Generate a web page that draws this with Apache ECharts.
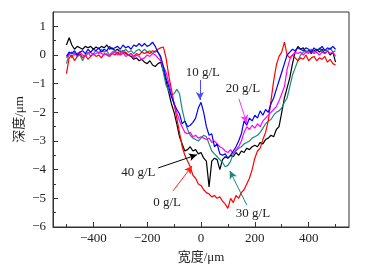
<!DOCTYPE html>
<html><head><meta charset="utf-8">
<script src="https://cdn.jsdelivr.net/npm/echarts@6/dist/echarts.min.js"></script>
<style>html,body{margin:0;padding:0;background:#fff}#c{width:388px;height:269px}</style>
</head><body><div id="c"></div>
<script>
const widthUm = [-500,-490,-480,-470,-460,-450,-440,-430,-420,-410,-400,-390,-380,-370,-360,-350,-340,-330,-320,-310,-300,-290,-280,-270,-260,-250,-240,-230,-220,-210,-200,-190,-180,-170,-160,-150,-140,-130,-120,-110,-100,-90,-80,-70,-60,-50,-40,-30,-20,-10,0,10,20,30,40,50,60,70,80,90,100,110,120,130,140,150,160,170,180,190,200,210,220,230,240,250,260,270,280,290,300,310,320,330,340,350,360,370,380,390,400,410,420,430,440,450,460,470,480,490,500];
const depth40 = [0.35,0.6,0.35,0.2,0.3,0.25,0.2,0.3,0.25,0.3,0.2,0.28,0.22,0.3,0.25,0.35,0.2,0.25,0.15,0.2,0.1,0.15,0.05,0.0,-0.05,-0.15,-0.1,-0.2,-0.15,-0.25,-0.3,-0.2,-0.35,-0.4,-0.3,-0.25,-0.55,-0.9,-1.3,-1.7,-2.0,-2.4,-2.85,-3.1,-3.35,-3.3,-3.2,-3.35,-3.3,-3.45,-3.4,-3.6,-3.7,-4.6,-3.7,-3.6,-3.65,-4.0,-3.65,-3.55,-3.6,-3.5,-3.55,-3.4,-3.5,-3.35,-3.4,-3.25,-3.3,-3.2,-3.15,-3.2,-3.05,-3.1,-2.95,-2.9,-2.8,-2.85,-2.6,-2.5,-2.0,-1.5,-1.15,-0.8,-0.3,0.1,0.3,0.2,0.25,0.1,0.15,0.05,0.15,0.2,0.1,0.2,0.05,0.15,0.0,0.1,-0.25];
const depth10 = [-0.05,0.1,0.05,0.15,0.0,0.1,0.15,0.05,0.2,0.1,0.2,0.15,0.25,0.1,0.2,0.15,0.3,0.2,0.25,0.3,0.2,0.35,0.25,0.3,0.2,0.35,0.3,0.4,0.3,0.4,0.3,0.35,0.45,0.3,0.1,-0.05,-0.4,-0.8,-1.1,-1.45,-1.7,-1.9,-2.05,-2.4,-2.3,-2.5,-2.45,-2.35,-2.2,-1.85,-1.65,-2.0,-2.5,-2.8,-2.75,-3.2,-3.1,-3.45,-3.5,-3.45,-3.6,-3.5,-3.35,-3.2,-3.0,-2.75,-2.3,-2.45,-2.2,-2.3,-2.1,-2.2,-1.95,-2.1,-1.9,-2.0,-1.7,-1.5,-1.2,-0.9,-0.6,-0.3,0.0,0.1,0.2,0.15,0.25,0.2,0.15,0.25,0.2,0.1,0.25,0.15,0.2,0.3,0.15,0.25,0.2,0.3,0.2];
const depth20 = [-0.1,0.05,0.1,0.0,0.05,0.1,0.0,-0.05,0.05,0.1,0.0,0.05,0.1,0.05,0.0,0.05,-0.05,0.05,0.1,0.0,0.05,0.1,-0.05,0.0,0.05,-0.1,0.0,-0.05,-0.15,-0.1,0.0,-0.05,0.05,0.0,-0.1,-0.2,-0.4,-0.6,-0.95,-1.35,-1.7,-2.0,-2.3,-2.5,-2.7,-2.75,-2.7,-2.85,-2.8,-2.9,-2.85,-2.9,-2.95,-2.9,-3.05,-3.0,-3.1,-3.2,-3.25,-3.35,-3.4,-3.3,-3.45,-3.3,-3.2,-3.0,-2.7,-2.5,-2.6,-2.45,-2.55,-2.4,-2.5,-2.3,-2.2,-2.1,-2.0,-1.9,-1.8,-1.6,-1.35,-1.1,-0.5,-0.15,0.0,0.1,0.05,0.1,0.0,0.1,0.05,0.15,0.05,0.1,0.0,0.1,0.05,0.15,0.05,0.1,-0.05];
const depth30 = [-0.3,0.05,-0.1,0.1,-0.05,0.0,-0.2,0.0,0.1,-0.05,0.05,0.15,0.05,0.2,0.1,0.15,0.0,0.1,0.15,0.05,0.15,0.1,0.2,0.1,0.15,0.05,0.15,0.2,0.1,0.2,0.1,0.15,0.05,0.15,0.1,-0.1,-0.6,-1.05,-1.25,-1.4,-1.35,-1.2,-1.35,-1.9,-2.3,-2.6,-2.8,-2.9,-2.95,-3.0,-2.9,-2.8,-2.85,-3.1,-3.35,-3.45,-3.55,-3.65,-3.75,-3.9,-3.85,-3.7,-3.45,-3.35,-3.25,-3.2,-3.1,-3.05,-3.0,-2.9,-2.85,-2.8,-2.7,-2.55,-2.4,-2.3,-2.25,-2.1,-2.0,-1.95,-1.85,-1.65,-1.5,-1.1,-0.7,-0.45,-0.2,0.0,0.1,0.15,0.1,0.2,0.1,0.15,0.25,0.1,0.2,0.15,0.25,0.1,0.15];
const depth0 = [-0.65,-0.1,0.0,-0.2,-0.05,0.05,-0.1,0.0,-0.15,-0.05,0.05,-0.05,0.0,-0.1,0.05,0.0,-0.05,0.05,0.0,0.1,0.0,0.05,0.1,0.0,0.05,-0.05,0.05,0.0,0.1,0.05,0.1,0.05,0.15,0.1,0.2,0.25,0.28,-0.1,-0.7,-1.2,-1.7,-2.2,-2.7,-3.2,-3.5,-3.7,-3.9,-4.2,-4.3,-4.5,-4.55,-4.7,-4.8,-4.85,-4.95,-4.9,-5.0,-4.95,-5.1,-5.2,-5.35,-5.0,-5.15,-4.9,-5.0,-4.8,-4.7,-4.5,-4.3,-4.0,-3.6,-3.35,-3.25,-2.95,-2.7,-2.3,-1.6,-0.9,-0.35,-0.05,0.1,0.45,0.0,-0.1,0.0,-0.1,-0.2,-0.1,-0.15,0.0,-0.2,-0.1,-0.05,-0.2,-0.1,-0.15,-0.05,-0.25,-0.15,-0.3,-0.35];

const seriesNames = ['40 g/L','30 g/L','0 g/L','20 g/L','10 g/L'];
const seriesData = [depth40, depth30, depth0, depth20, depth10];
const seriesColors = ['#000000','#1a8a7e','#ff0000','#ff00ff','#0000ff'];
const arrowColors = ['#000000','#1a8a7e','#ff2020','#ff30ff','#4a4aff'];
// annotation label positions [x, y] and arrow [from, to] in data units
const labelPos = [[-233,-4.11],[193,-5.54],[-126,-5.16],[156,-1.18],[7,-0.63]];
const arrowFrom = [[-159,-3.94],[170,-5.23],[-104,-4.74],[141,-1.53],[-4,-0.87]];
const arrowTo = [[-15,-3.48],[107,-4.04],[-33,-3.87],[170,-2.37],[-4,-1.57]];

const xLabelVals = [-400,-200,0,200,400];
const xMajorTicks = [-400,-200,0,200,400];
const xMinorTicks = [-500,-300,-100,100,300,500];
const yLabelVals = [-6,-5,-4,-3,-2,-1,0,1];
const yMinorTicks = [-5.5,-4.5,-3.5,-2.5,-1.5,-0.5,0.5];

const serif = "'Liberation Serif','Times New Roman',serif";
const fmt = v => v < 0 ? '\u2212' + Math.abs(v) : String(v);
const chart = echarts.init(document.getElementById('c'), null, {renderer:'canvas'});
const axisColor = '#333';
chart.setOption({
  animation:false,
  grid:{left:53,right:39,top:12,bottom:42,show:true,borderColor:axisColor,borderWidth:1,backgroundColor:'transparent'},
  xAxis:[{
    type:'value',min:-550,max:550,position:'bottom',
    name:'宽度/μm',nameLocation:'middle',nameGap:24,nameMoveOverlap:false,
    nameTextStyle:{fontFamily:"'Liberation Serif','Noto Sans CJK SC',serif",fontSize:13,color:'#222'},
    axisLine:{show:true,onZero:false,lineStyle:{color:axisColor,width:1}},
    axisTick:{show:true,inside:true,length:5,customValues:xMajorTicks,lineStyle:{color:axisColor}},
    axisLabel:{show:true,customValues:xLabelVals,formatter:fmt,fontFamily:serif,fontSize:13,color:'#222',margin:5},
    splitLine:{show:false}
  },{
    type:'value',min:-550,max:550,position:'bottom',
    axisLine:{show:false,onZero:false},axisLabel:{show:false},splitLine:{show:false},
    axisTick:{show:true,inside:true,length:3,customValues:xMinorTicks,lineStyle:{color:axisColor}}
  }],
  yAxis:[{
    type:'value',min:-6,max:1.5,position:'left',
    name:'深度/μm',nameLocation:'middle',nameGap:27,nameRotate:90,nameMoveOverlap:false,
    nameTextStyle:{fontFamily:"'Liberation Serif','Noto Sans CJK SC',serif",fontSize:13,color:'#222'},
    axisLine:{show:true,onZero:false,lineStyle:{color:axisColor,width:1}},
    axisTick:{show:true,inside:true,length:5,customValues:yLabelVals,lineStyle:{color:axisColor}},
    axisLabel:{show:true,customValues:yLabelVals,formatter:fmt,fontFamily:serif,fontSize:13,color:'#222',margin:7},
    splitLine:{show:false}
  },{
    type:'value',min:-6,max:1.5,position:'left',
    axisLine:{show:false,onZero:false},axisLabel:{show:false},splitLine:{show:false},
    axisTick:{show:true,inside:true,length:3,customValues:yMinorTicks,lineStyle:{color:axisColor}}
  }],
  series: seriesNames.map((name,i)=>({
    name, type:'line', xAxisIndex:0, yAxisIndex:0,
    data: widthUm.map((x,j)=>[x, seriesData[i][j]]),
    showSymbol:false, symbol:'none',
    lineStyle:{color:seriesColors[i],width:1.2},
    itemStyle:{color:seriesColors[i]},
    markLine:{silent:true,animation:false,symbol:['none','arrow'],symbolSize:[6,8],
      label:{show:false},
      lineStyle:{color:arrowColors[i],width:1,type:'solid'},
      data:[[{coord:arrowFrom[i]},{coord:arrowTo[i]}]]},
    markPoint:{silent:true,animation:false,symbol:'circle',symbolSize:0,
      label:{show:true,position:'inside',formatter:name,fontFamily:serif,fontSize:13,color:'#222'},
      data:[{coord:labelPos[i]}]}
  }))
});
</script></body></html>
